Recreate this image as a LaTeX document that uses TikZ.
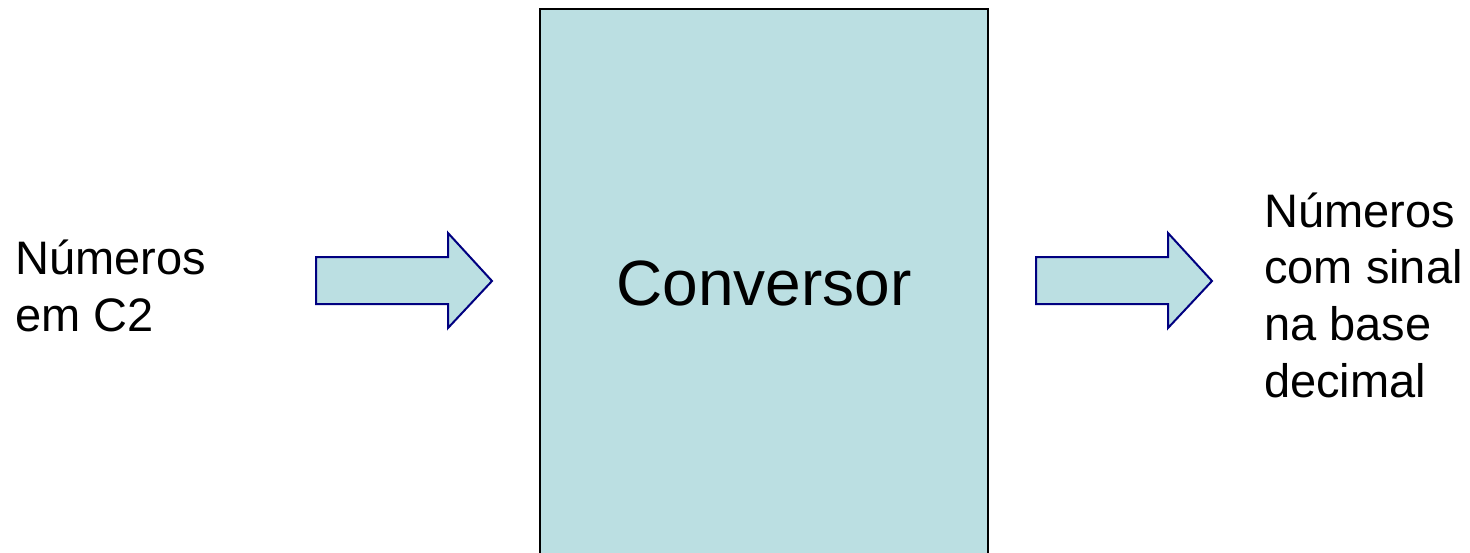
\documentclass[tikz,border=0pt]{standalone}
\usepackage{fontspec}
\setmainfont{Liberation Sans}
\definecolor{boxfill}{HTML}{BBDFE2}
\definecolor{arrowline}{HTML}{000080}
\tikzset{
  blockbox/.style={draw=black, line width=2pt, fill=boxfill},
  bigarrow/.style={draw=arrowline, line width=2pt, fill=boxfill, line join=miter},
  label/.style={inner sep=0pt, align=left, font=\fontsize{47}{56.6}\selectfont},
}
\begin{document}
\begin{tikzpicture}[x=1pt,y=-1pt]
\useasboundingbox (0,0) rectangle (1470,552);
% converter block (cut at the bottom)
\path[blockbox] (540,600) -- (540,9) -- (988,9) -- (988,600);
\node[anchor=base, inner sep=0pt, font=\fontsize{64}{70}\selectfont] (conv) at (764,305) {Conversor};
% input arrow
\draw[bigarrow] (316,257) -- (448,257) -- (448,233) -- (492,281) -- (448,328) -- (448,304) -- (316,304) -- cycle;
% output arrow
\draw[bigarrow] (1036,257) -- (1168,257) -- (1168,233) -- (1212,281) -- (1168,328) -- (1168,304) -- (1036,304) -- cycle;
\node[label, anchor=base west] (in) at (15,331) {Números\\em C2};
\node[label, anchor=base west] (out) at (1264,397) {Números\\com sinal\\na base\\decimal};
\end{tikzpicture}
\end{document}
